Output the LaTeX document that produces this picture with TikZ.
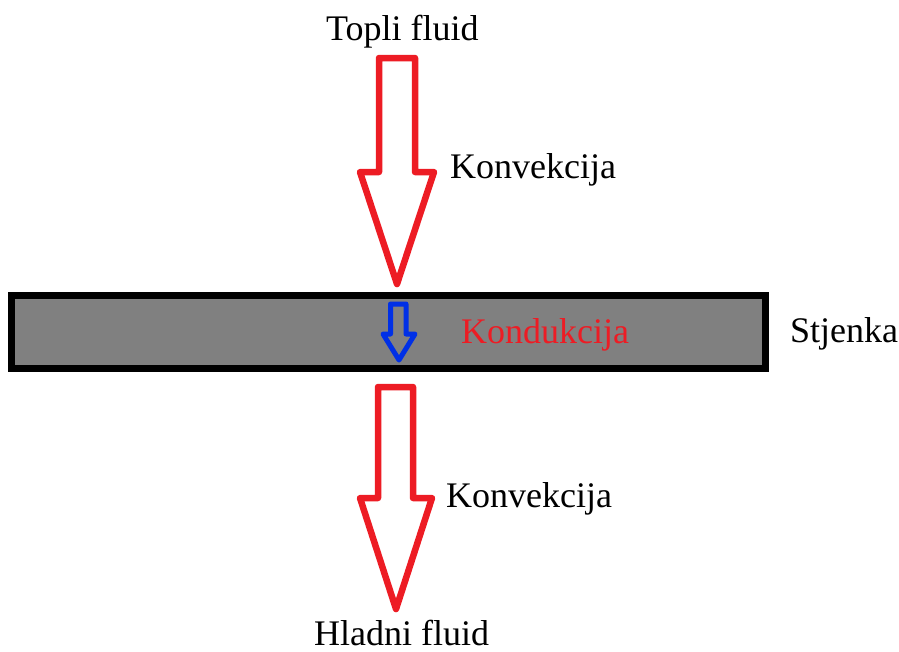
\documentclass[tikz,border=0pt]{standalone}
\usepackage{fontspec}
\setmainfont{Liberation Serif}
\definecolor{pred}{RGB}{237,28,36}
\definecolor{pblue}{RGB}{0,48,230}
\definecolor{wallgray}{RGB}{128,128,128}
\begin{document}
\begin{tikzpicture}[x=1pt,y=-1pt,
  lbl/.style={anchor=base west,inner sep=0pt,font=\fontsize{36}{43}\selectfont},
  bigarrow/.style={draw=pred,line width=6.5pt,line join=round,fill=white},
  smallarrow/.style={draw=pblue,line width=5pt,line join=round},
  wall/.style={draw=black,line width=7pt,fill=wallgray}]
\useasboundingbox (0,0) rectangle (899,651);
% wall
\draw[wall] (11.5,295.5) rectangle (765.5,368.5);
% top convection arrow
\draw[bigarrow] (379,58) -- (415,58) -- (415,172) -- (434,172) -- (397,284) -- (360,172) -- (379,172) -- cycle;
% bottom convection arrow
\draw[bigarrow] (378,387) -- (413,387) -- (413,498) -- (432,498) -- (396,609) -- (360,498) -- (378,498) -- cycle;
% conduction arrow
\draw[smallarrow] (390.5,304) -- (406,304) -- (406,334) -- (415,334) -- (399,360) -- (383,334) -- (390.5,334) -- cycle;
% labels
\node[lbl] (topli) at (326,40) {Topli fluid};
\node[lbl] (konv1) at (450,178) {Konvekcija};
\node[lbl] (stjenka) at (790,342) {Stjenka};
\node[lbl,text=pred] (kond) at (461,343) {Kondukcija};
\node[lbl] (konv2) at (446,507) {Konvekcija};
\node[lbl] (hladni) at (314,645) {Hladni fluid};
\end{tikzpicture}
\end{document}
